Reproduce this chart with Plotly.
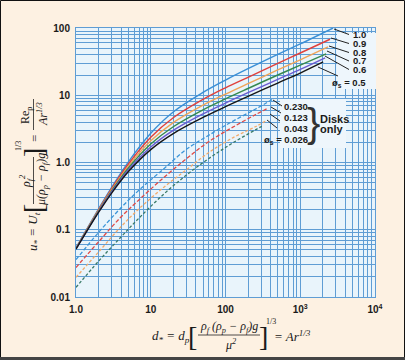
import plotly.graph_objects as go

# ---------------- data ----------------
# solid curves: sphericity 1.0 ... 0.5
d_10 = [1, 2, 3, 5, 10, 20, 50, 100, 200, 500, 1000, 2750]
u_10 = [0.0538, 0.203, 0.427, 1.016, 2.72, 5.64, 11.0, 16.8, 24.8, 40.5, 58.0, 100]
d_09 = [1, 2, 3, 5, 10, 20, 50, 100, 200, 500, 1000, 2500]
u_09 = [0.0533, 0.198, 0.410, 0.942, 2.37, 4.63, 8.67, 12.9, 18.5, 29.8, 42.5, 68]
d_08 = [1, 2, 3, 5, 10, 20, 50, 100, 200, 500, 1000, 2350]
u_08 = [0.0528, 0.1936, 0.393, 0.877, 2.10, 3.92, 7.14, 10.4, 14.9, 23.8, 33.6, 52.3]
d_07 = [1, 2, 3, 5, 10, 20, 50, 100, 200, 500, 1000, 2220]
u_07 = [0.0523, 0.189, 0.378, 0.821, 1.88, 3.40, 6.07, 8.83, 12.6, 20.0, 28.0, 41.3]
d_06 = [1, 2, 3, 5, 10, 20, 50, 100, 200, 500, 1000, 2150]
u_06 = [0.0518, 0.1848, 0.364, 0.772, 1.70, 3.00, 5.28, 7.65, 10.9, 17.2, 24.2, 36.0]
d_05 = [1, 2, 3, 5, 10, 20, 50, 100, 200, 500, 1000, 2025]
u_05 = [0.0514, 0.1807, 0.3515, 0.728, 1.556, 2.69, 4.67, 6.75, 9.62, 15.2, 21.4, 31.3]

# dashed curves: disks only
d_230 = [1, 2, 4, 7, 15, 30, 60, 120, 250, 420]
u_230 = [0.036, 0.091, 0.212, 0.39, 0.81, 1.57, 2.55, 4.0, 6.2, 8.6]
d_123 = [1, 2, 4, 7, 15, 30, 60, 120, 250, 375]
u_123 = [0.0275, 0.066, 0.155, 0.28, 0.60, 1.14, 2.05, 3.26, 5.12, 6.46]
d_043 = [1, 2, 4, 7, 15, 30, 60, 120, 250, 340]
u_043 = [0.0196, 0.0466, 0.111, 0.206, 0.43, 0.78, 1.41, 2.27, 3.4, 4.1]
d_026 = [1, 2, 4, 7, 15, 30, 60, 120, 250, 306]
u_026 = [0.0139, 0.034, 0.078, 0.15, 0.34, 0.65, 1.15, 1.9, 3.05, 3.45]

solid_labels = ["1.0", "0.9", "0.8", "0.7", "0.6", "ø<sub>s</sub> = 0.5"]
disk_labels = ["0.230", "0.123", "0.043", "ø<sub>s</sub> = 0.026"]

x_major = [1, 10, 100, 1000, 10000]
x_major_text = ["1.0", "10", "100", "10<sup>3</sup>", "10<sup>4</sup>"]
y_major = [0.01, 0.1, 1, 10, 100]
y_major_text = ["0.01", "0.1", "1.0", "10", "100"]

# ---------------- layout helpers ----------------
W, H = 405, 360
L, R, T, B = 76, 375, 28, 297


def px(x):
    return (x - L) / (R - L)


def py(y):
    return (B - y) / (B - T)


def grid_vals(major, labels):
    vals, texts = [], []
    for i, v in enumerate(major):
        vals.append(v)
        texts.append(labels[i])
        if i < len(major) - 1:
            for m in range(2, 10):
                vals.append(v * m)
                texts.append("")
    return vals, texts


xv, xtx = grid_vals(x_major, x_major_text)
yv, ytx = grid_vals(y_major, y_major_text)

fig = go.Figure()

solid = [
    (d_10, u_10, "#3a8fd6"),
    (d_09, u_09, "#e0403c"),
    (d_08, u_08, "#f0a458"),
    (d_07, u_07, "#37884d"),
    (d_06, u_06, "#6a5bcf"),
    (d_05, u_05, "#161616"),
]
for d, u, c in solid:
    fig.add_trace(go.Scatter(x=d, y=u, mode="lines", line=dict(color=c, width=1.4, shape="spline"),
                             hoverinfo="skip"))

dashed = [
    (d_230, u_230, "#3b95d8", "4px,2px"),
    (d_123, u_123, "#e04a46", "4px,2px"),
    (d_043, u_043, "#f2aa6a", "3px,2px"),
    (d_026, u_026, "#3a7a68", "3px,2px"),
]
for d, u, c, ds in dashed:
    fig.add_trace(go.Scatter(x=d, y=u, mode="lines", line=dict(color=c, width=1.3, dash=ds, shape="spline"),
                             hoverinfo="skip"))

shapes = []
# label boxes
shapes.append(dict(type="rect", xref="paper", yref="paper", x0=px(337), x1=px(376), y0=py(89), y1=py(33),
                   fillcolor="#eef6fc", line=dict(width=0), layer="above"))
shapes.append(dict(type="rect", xref="paper", yref="paper", x0=px(280), x1=px(346), y0=py(148), y1=py(99),
                   fillcolor="#eef6fc", line=dict(width=0), layer="above"))

# leader lines for solid labels
for (x0, y0, x1, y1) in [(334, 29, 349, 34.5), (331, 38, 349, 43.5), (329, 46, 349, 52.5),
                         (327, 51, 349, 61), (325, 56, 349, 69.5), (318, 67, 338, 76)]:
    shapes.append(dict(type="line", xref="paper", yref="paper", x0=px(x0), y0=py(y0), x1=px(x1), y1=py(y1),
                       line=dict(color="#222", width=1), layer="above"))
# leader lines for disk labels
for (x0, y0, x1, y1) in [(273, 100, 282, 106), (271, 107, 281, 113), (270, 114, 280, 121), (267, 120, 277, 128)]:
    shapes.append(dict(type="line", xref="paper", yref="paper", x0=px(x0), y0=py(y0), x1=px(x1), y1=py(y1),
                       line=dict(color="#222", width=1), layer="above"))

# fraction bars of axis titles
shapes.append(dict(type="line", xref="paper", yref="paper", x0=px(198), x1=px(260), y0=py(335), y1=py(335),
                   line=dict(color="#222", width=0.8)))
shapes.append(dict(type="line", xref="paper", yref="paper", x0=px(33.5), x1=px(33.5), y0=py(157), y1=py(204),
                   line=dict(color="#222", width=0.8)))
shapes.append(dict(type="line", xref="paper", yref="paper", x0=px(33.5), x1=px(33.5), y0=py(99), y1=py(130),
                   line=dict(color="#222", width=0.8)))

# outer frame
shapes.append(dict(type="rect", xref="paper", yref="paper", x0=px(0.5), x1=px(404.5), y0=py(358), y1=py(0.5),
                   line=dict(color="#111", width=1), layer="above"))
shapes.append(dict(type="line", xref="paper", yref="paper", x0=px(0), x1=px(405), y0=py(358.5), y1=py(358.5),
                   line=dict(color="#444", width=3), layer="above"))

ann = []
lab_font = dict(family="Liberation Sans, Arial", size=9.5, color="#1a1a1a", weight="bold")
for txt, y in zip(solid_labels, [35, 43.5, 52.5, 61, 69.5, 83]):
    ann.append(dict(text=txt, xref="paper", yref="paper", x=px(368), y=py(y), xanchor="right", yanchor="middle",
                    showarrow=False, font=lab_font))
for txt, y in zip(disk_labels, [106.5, 117.5, 128.5, 139.5]):
    ann.append(dict(text=txt, xref="paper", yref="paper", x=px(310), y=py(y), xanchor="right", yanchor="middle",
                    showarrow=False, font=lab_font))
ann.append(dict(text="}", xref="paper", yref="paper", x=px(313), y=py(123), xanchor="center", yanchor="middle",
                showarrow=False, font=dict(family="Liberation Sans", size=40, color="#333")))
ann.append(dict(text="Disks", xref="paper", yref="paper", x=px(318), y=py(119), xanchor="left", yanchor="middle",
                showarrow=False, font=dict(family="Liberation Sans, Arial", size=11, color="#1a1a1a", weight="bold")))
ann.append(dict(text="only", xref="paper", yref="paper", x=px(318), y=py(129), xanchor="left", yanchor="middle",
                showarrow=False, font=dict(family="Liberation Sans, Arial", size=11, color="#1a1a1a", weight="bold")))

serif = "Liberation Serif, Times New Roman, serif"


def t(text, x, y, size=13, italic=True, angle=0):
    ann.append(dict(text=text, xref="paper", yref="paper", x=px(x), y=py(y), xanchor="center", yanchor="middle",
                    showarrow=False, textangle=angle,
                    font=dict(family=serif, size=size, color="#1a1a1a", style="italic" if italic else "normal")))


# x-axis title
t("d<sub>*</sub> = d<sub>p</sub>", 171, 336)
t("[", 192, 336, size=28, italic=False)
t("ρ<sub>f</sub> (ρ<sub>p</sub> − ρ<sub>f</sub>)g", 229, 327, size=12)
t("μ<sup>2</sup>", 230, 344, size=12)
t("]", 263, 336, size=28, italic=False)
t("1/3", 271, 321, size=8, italic=False)
t("= Ar<sup>1/3</sup>", 292, 336)

# y-axis title (rotated)
t("u<sub>*</sub> = U<sub>t</sub>", 33, 232, angle=-90)
t("[", 33, 209, size=28, italic=False, angle=-90)
t("ρ<sub>f</sub><sup>2</sup>", 26, 182, size=12, angle=-90)
t("μ(ρ<sub>p</sub> − ρ<sub>f</sub>)g", 42, 180, size=12, angle=-90)
t("]", 33, 153, size=28, italic=False, angle=-90)
t("1/3", 18, 146, size=8, italic=False, angle=-90)
t("=", 34, 139, size=13, italic=False, angle=-90)
t("Re<sub>p</sub>", 26, 115, size=12, italic=False, angle=-90)
t("Ar<sup>1/3</sup>", 42, 114, size=12, angle=-90)

grid_col = "#5f9dd4"
tick_font = dict(family="Liberation Sans, Arial", size=10, color="#1a1a1a", weight="bold")

fig.update_layout(
    width=W, height=H, autosize=False,
    margin=dict(l=L, r=W - R, t=T, b=H - B, pad=0),
    paper_bgcolor="#fdf1e2", plot_bgcolor="#e9f4fb",
    showlegend=False,
    shapes=shapes, annotations=ann,
    xaxis=dict(type="log", range=[0, 4], tickmode="array", tickvals=xv, ticktext=xtx,
               showgrid=True, gridcolor=grid_col, gridwidth=1, zeroline=False,
               showline=True, mirror=True, linecolor=grid_col, linewidth=1,
               ticks="outside", ticklen=3, tickcolor="rgba(0,0,0,0)", tickfont=tick_font),
    yaxis=dict(type="log", range=[-2, 2], tickmode="array", tickvals=yv, ticktext=ytx,
               showgrid=True, gridcolor=grid_col, gridwidth=1, zeroline=False,
               showline=True, mirror=True, linecolor=grid_col, linewidth=1,
               ticks="outside", ticklen=3, tickcolor="rgba(0,0,0,0)", tickfont=tick_font),
)

fig.write_html("out.html", config={"displayModeBar": False},
               post_script="document.body.style.margin='0px';document.body.style.overflow='hidden';")
